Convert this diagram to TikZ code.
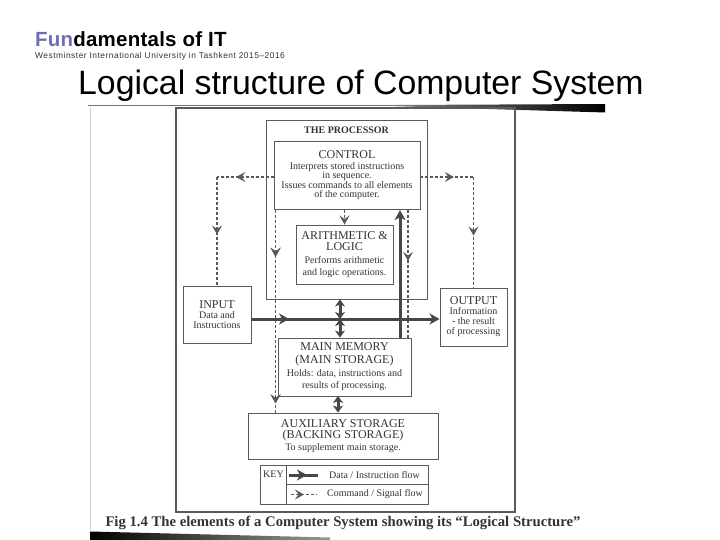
\documentclass[tikz,border=0pt]{standalone}
\usepackage{fontspec}
\setmainfont{Liberation Serif}
\newfontfamily\sansf{Liberation Sans}
\newfontfamily\sansw[LetterSpace=1.2]{Liberation Sans}
\newfontfamily\sanss[LetterSpace=6]{Liberation Sans}
\usetikzlibrary{arrows.meta,decorations.markings,calc}
\definecolor{ink}{HTML}{333333}
\definecolor{lin}{HTML}{5A5A5A}
\definecolor{thk}{HTML}{474747}
\definecolor{fun}{HTML}{6E6EB4}
\newcommand{\hd}{\fontsize{12bp}{13bp}\selectfont}
\tikzset{
  box/.style={draw=lin, line width=0.9bp, inner sep=0pt, align=center, text=ink,
    font=\fontsize{10bp}{10bp}\selectfont},
  cmd/.style={draw=lin, color=lin, line width=1.3bp, dash pattern=on 3bp off 2bp},
  data/.style={draw=thk, color=thk, line width=3bp},
  cmdtip/.tip={Stealth[length=9bp,width=10bp,inset=3.5bp]},
  datatip/.tip={Stealth[length=10bp,width=11bp,inset=3bp]},
  dbltip/.tip={Stealth[length=7bp,width=10bp,inset=2bp]},
  midcmd/.style={postaction={decorate},decoration={markings,
      mark=at position #1 with {\arrow{cmdtip}}}},
  middata/.style={postaction={decorate},decoration={markings,
      mark=at position #1 with {\arrow{datatip}}}},
  lbl/.style={inner sep=0pt, text=ink, font=\fontsize{10bp}{10bp}\selectfont}
}
\begin{document}
\begin{tikzpicture}[x=1bp,y=-1bp]
\useasboundingbox (0,0) rectangle (720,540);
\fill[white] (0,0) rectangle (720,540);

% header
\node[anchor=base west, inner sep=0pt, font=\sansw\bfseries\fontsize{20.5bp}{21bp}\selectfont] (hd) at (35,47)
  {\textcolor{fun}{Fun}damentals of IT};
\node[anchor=base west, inner sep=0pt, text=ink, font=\sanss\fontsize{8.4bp}{9bp}\selectfont] (sub) at (35,58.5)
  {Westminster International University in Tashkent 2015–2016};
\node[anchor=base west, inner sep=0pt, font=\sansf\fontsize{33.8bp}{34bp}\selectfont] (ttl) at (78,95)
  {Logical structure of Computer System};

% bars
\fill[black!55] (88,105) rectangle (605,106.2);
\shade[left color=black!50, right color=black] (395,105) -- (605,104) -- (605,112.5) -- (395,106.2) -- cycle;
\shade[left color=black, right color=black!40] (90,531.5) -- (330,537.5) -- (330,540) -- (90,540) -- cycle;
\draw[black!18, line width=0.8bp] (90,107) -- (90,531);

% frame
\node[draw=lin, line width=1.2bp, inner sep=0pt, minimum width=339bp, minimum height=404bp] (frame) at (345.5,310) {};

% boxes
\node[box, minimum width=161bp, minimum height=179bp] (proc) at (346.5,209.5) {};
\node[lbl, font=\bfseries\fontsize{10bp}{10bp}\selectfont] (procl) at (346.5,130) {THE PROCESSOR};
\node[box, minimum width=146bp, minimum height=68.5bp, font=\fontsize{10bp}{9.6bp}\selectfont] (ctrl) at (347,175.5)
  {{\hd CONTROL}\\[0.5bp] Interprets stored instructions\\ in sequence.\\ Issues commands to all elements\\ of the computer.};
\node[box, minimum width=97bp, minimum height=59bp] (alu) at (344.5,254.5)
  {{\hd ARITHMETIC \&}\\[1.5bp] {\hd LOGIC}\\[2.5bp] Performs arithmetic\\[2bp] and logic operations.};
\node[box, minimum width=68bp, minimum height=57bp] (inp) at (217,314.5)
  {{\hd INPUT}\\ Data and\\ Instructions};
\node[box, minimum width=67bp, minimum height=58bp] (outp) at (473.5,317)
  {{\hd OUTPUT}\\ Information\\ - the result\\ of processing};
\node[box, minimum width=133bp, minimum height=58bp] (mem) at (344.5,367)
  {{\hd MAIN MEMORY}\\[3bp] {\hd (MAIN STORAGE)}\\[3bp] Holds: data, instructions and\\[2bp] results of processing.};
\node[box, minimum width=190bp, minimum height=46bp] (aux) at (343,436)
  {{\hd AUXILIARY STORAGE}\\[1bp] {\hd (BACKING STORAGE)}\\[1.5bp] To supplement main storage.};

% key
\node[box, minimum width=168bp, minimum height=39bp] (key) at (344,484.5) {};
\draw[lin, line width=0.9bp] ($(key.north west)+(27,0)$) -- ($(key.south west)+(27,0)$);
\draw[lin, line width=0.9bp] ($(key.west)+(27,0)$) -- (key.east);
\node[lbl, anchor=center] (keyl) at (273.5,474.5) {KEY};
\node[lbl] (k1t) at (374.5,475.5) {Data / Instruction flow};
\node[lbl] (k2t) at (375,494.5) {Command / Signal flow};
\coordinate (k1a) at (289,475);
\coordinate (k1b) at (318,475);
\coordinate (k2a) at (291,494.5);
\coordinate (k2b) at (317,494.5);
\draw[data, middata=0.62] (k1a) -- (k1b);
\draw[cmd, midcmd=0.5] (k2a) -- (k2b);

% command / signal flows
\coordinate (cL) at (217,177);
\coordinate (cR) at (473.5,177);
\draw[cmd, midcmd=0.66] (ctrl.west |- cL) -- (cL);
\draw[cmd, midcmd=0.53] (cL) -- (inp.north);
\draw[cmd, midcmd=0.63] (ctrl.east |- cR) -- (cR);
\draw[cmd, midcmd=0.53] (cR) -- (outp.north);
\draw[cmd, -{cmdtip}] (ctrl.south -| alu.north) -- (alu.north);
\coordinate (lv) at ($(ctrl.south west)+(2,0)$);
\draw[cmd, midcmd=0.23, midcmd=0.955] (lv) -- (lv |- aux.north);
\coordinate (rv) at (408,209.75);
\draw[cmd, midcmd=0.4] (rv) -- (rv |- mem.north);

% data / instruction flows
\coordinate (dy) at (340,319);
\draw[data, middata=0.2, -{datatip}] (inp.east |- dy) -- (outp.west |- dy);
\coordinate (tv) at (400,338);
\draw[data, -{datatip}] (tv) -- (tv |- ctrl.south);
\draw[data, {dbltip}-{dbltip}] (proc.south -| dy) -- (dy);
\draw[data, {dbltip}-{dbltip}] (dy) -- (mem.north -| dy);
\coordinate (ma) at (338,396);
\draw[data, {dbltip}-{dbltip}] (ma) -- (ma |- aux.north);

% caption
\node[anchor=base, inner sep=0pt, text=ink, font=\bfseries\fontsize{14.7bp}{15bp}\selectfont] (cap) at (343,526.5)
  {Fig 1.4 The elements of a Computer System showing its “Logical Structure”};
\end{tikzpicture}
\end{document}
